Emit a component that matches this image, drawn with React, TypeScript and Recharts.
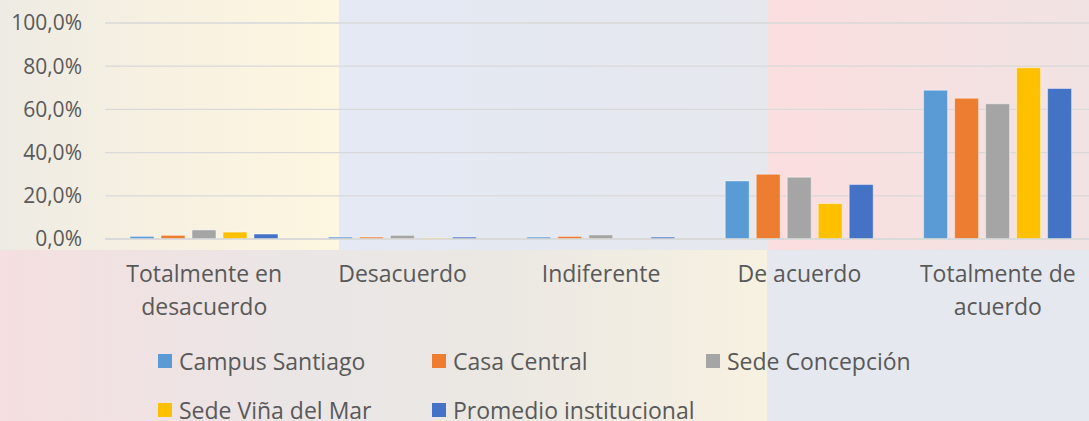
import React from "react";
import { BarChart, Bar, XAxis, YAxis, CartesianGrid } from "recharts";

// Categories and values (percent)
const CATEGORIES = [
  "Totalmente en desacuerdo",
  "Desacuerdo",
  "Indiferente",
  "De acuerdo",
  "Totalmente de acuerdo",
];
const CAMPUS_SANTIAGO = [1.2, 0.9, 0.9, 26.9, 68.9];
const CASA_CENTRAL = [1.7, 0.9, 1.2, 30.0, 65.2];
const SEDE_CONCEPCION = [4.2, 1.7, 1.9, 28.6, 62.6];
const SEDE_VINA = [3.2, 0.5, 0.0, 16.4, 79.3];
const PROMEDIO = [2.3, 0.9, 0.9, 25.2, 69.7];
const Y_TICKS = [0, 20, 40, 60, 80, 100];

const SERIES = [
  { key: "campus", name: "Campus Santiago", values: CAMPUS_SANTIAGO, color: "#5B9BD5" },
  { key: "central", name: "Casa Central", values: CASA_CENTRAL, color: "#ED7D31" },
  { key: "concepcion", name: "Sede Concepción", values: SEDE_CONCEPCION, color: "#A5A5A5" },
  { key: "vina", name: "Sede Viña del Mar", values: SEDE_VINA, color: "#FFC000" },
  { key: "promedio", name: "Promedio institucional", values: PROMEDIO, color: "#4472C4" },
];

const data = CATEGORIES.map((name, i) => {
  const row: Record<string, string | number> = { name };
  SERIES.forEach((s) => (row[s.key] = s.values[i]));
  return row;
});

const FONT = "'Open Sans', sans-serif";
const TEXT_COLOR = "#595959";

const formatPct = (v: number) => v.toFixed(1).replace(".", ",") + "%";

// labels longer than two words go on two lines, like the excel wrap
function wrapLabel(label: string): string[] {
  const words = label.split(" ");
  if (words.length <= 2) return [label];
  return [words.slice(0, 2).join(" "), words.slice(2).join(" ")];
}

function CategoryTick({ x, y, payload }: any) {
  const lines = wrapLabel(String(payload.value));
  return (
    <text
      x={x}
      y={y + 43}
      textAnchor="middle"
      fill={TEXT_COLOR}
      style={{ fontSize: 23, fontFamily: FONT }}
    >
      {lines.map((line, i) => (
        <tspan key={i} x={x} dy={i === 0 ? 0 : 33}>
          {line}
        </tspan>
      ))}
    </text>
  );
}

function Background() {
  const box = (style: React.CSSProperties) => (
    <div style={{ position: "absolute", ...style }} />
  );
  return (
    <>
      {box({ left: 0, top: 0, width: 339, height: 250, background: "linear-gradient(to right, #eeebe4, #f6f0e2 40%, #fdf6e0)" })}
      {box({ left: 339, top: 0, width: 428, height: 250, background: "linear-gradient(to right, #e4e9f4, #e6e8ee)" })}
      {box({ left: 767, top: 0, width: 322, height: 250, background: "linear-gradient(to right, #fbdedf, #f1e3e3)" })}
      {box({ left: 0, top: 250, width: 767, height: 171, background: "linear-gradient(to right, #f5dfe0, #eae6e6 40%, #ebe8e3 65%, #f7f1e1)" })}
      {box({ left: 767, top: 250, width: 322, height: 171, background: "#e6e8ef" })}
    </>
  );
}

function LegendBlock() {
  return (
    <div style={{ position: "absolute", left: 158, top: 344, width: 900 }}>
      {SERIES.map((s, i) => (
        <div
          key={s.key}
          style={{
            position: "absolute",
            left: (i % 3) * 274,
            top: Math.floor(i / 3) * 49,
            display: "flex",
            alignItems: "center",
            whiteSpace: "nowrap",
            fontFamily: FONT,
            fontSize: 23,
            color: TEXT_COLOR,
            lineHeight: "34px",
          }}
        >
          <span style={{ width: 14, height: 14, background: s.color, marginRight: 7, display: "inline-block" }} />
          {s.name}
        </div>
      ))}
    </div>
  );
}

export default function App() {
  return (
    <div style={{ position: "absolute", left: 0, top: 0, width: 1089, height: 421, overflow: "hidden" }}>
      <Background />
      <div style={{ position: "absolute", left: 0, top: 0 }}>
        <BarChart
          width={1100}
          height={421}
          data={data}
          margin={{ top: 23, right: 3, bottom: 122, left: 0 }}
          barSize={24}
          barGap={7}
        >
          <CartesianGrid vertical={false} stroke="#d9d9d9" strokeWidth={1.3} />
          <XAxis
            dataKey="name"
            interval={0}
            height={60}
            tickSize={0}
            tickMargin={0}
            axisLine={{ stroke: "#d9d9d9", strokeWidth: 1.3 }}
            tickLine={false}
            tick={<CategoryTick />}
          />
          <YAxis
            width={105}
            domain={[0, 100]}
            ticks={Y_TICKS}
            tickFormatter={formatPct}
            axisLine={false}
            tickLine={false}
            tickSize={0}
            tickMargin={23}
            tick={{ fontSize: 21, fill: TEXT_COLOR, fontFamily: FONT }}
          />
          {SERIES.map((s) => (
            <Bar
              key={s.key}
              dataKey={s.key}
              name={s.name}
              fill={s.color}
              stroke="rgba(255,255,255,0.45)"
              strokeWidth={1}
              isAnimationActive={false}
            />
          ))}
        </BarChart>
      </div>
      <LegendBlock />
    </div>
  );
}
